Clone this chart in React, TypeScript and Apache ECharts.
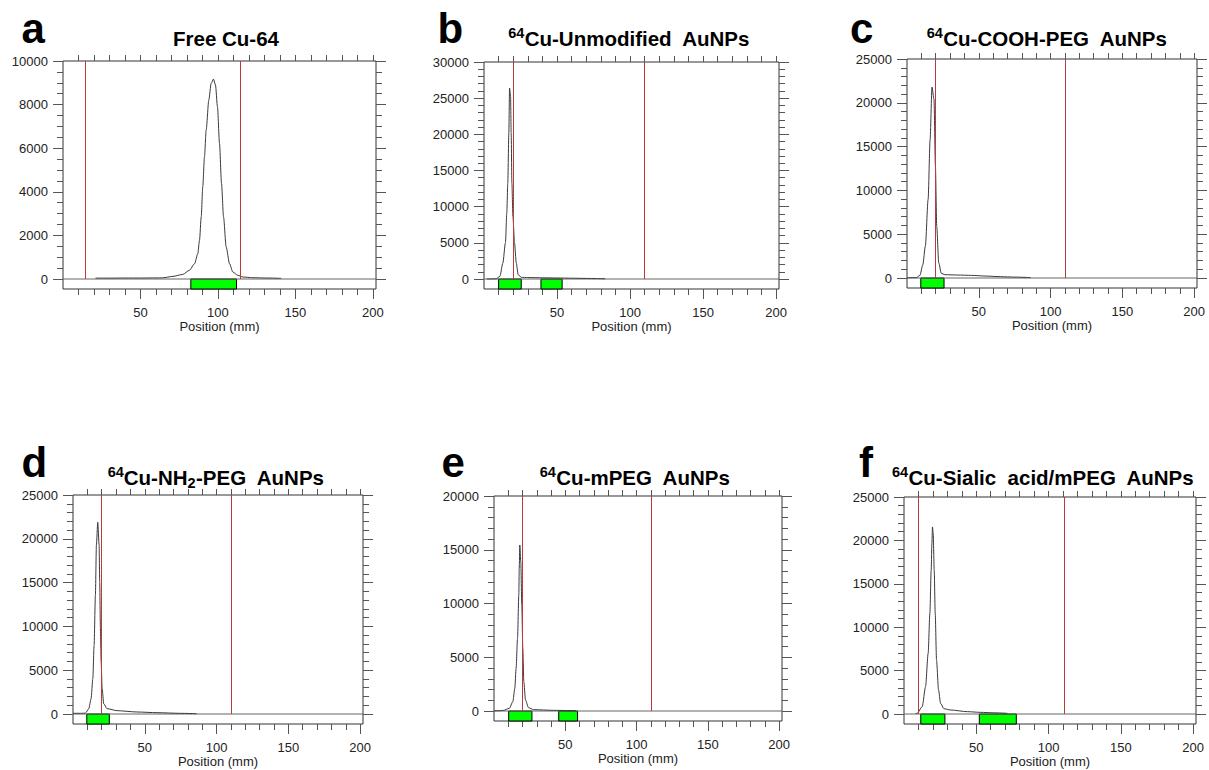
import React, { useEffect, useRef } from 'react';
import * as echarts from 'echarts';

// ---------- data (position in mm, counts) ----------
const traceA: number[][] = [
  [21, 40], [30, 40], [40, 45], [50, 45], [60, 50], [64.4, 55], [70.9, 120], [77.3, 210], [81.6, 400],
  [84.9, 700], [87, 1160], [88.1, 1780], [89.2, 2850], [90.2, 4230], [91.3, 5600], [92.4, 6830],
  [94.1, 8210], [95.6, 8970], [97.1, 9170], [98.4, 8900], [99.7, 7900], [101, 6220], [102.3, 4380],
  [103.6, 2850], [105.3, 1470], [107.5, 700], [109.6, 320], [112.8, 170], [116.1, 90], [122.5, 60],
  [131.1, 46], [140.8, 30],
];
const traceB: number[][] = [
  [2, 0], [8.3, 20], [10.9, 370], [12.9, 2200], [14.7, 5020], [15.6, 9120], [16.3, 13270], [17.0, 20180],
  [17.5, 26400], [18.2, 25250], [18.6, 20180], [19.1, 13270], [19.8, 8660], [20.9, 5020], [22.1, 2210],
  [23.4, 600], [25.5, 230], [30, 200], [40, 170], [50, 140], [60, 110], [70, 80], [77, 60], [83, 30],
];
const traceC: number[][] = [
  [0, 30], [6.5, 40], [9, 300], [11, 1500], [12.8, 3650], [14.7, 8970], [16.1, 15800], [17.4, 21800],
  [18.8, 20400], [19.8, 12800], [20.7, 5900], [22.1, 1750], [23.9, 530], [26.3, 380], [35, 340],
  [45, 300], [55, 220], [65, 150], [75, 100], [86, 50],
];
const traceD: number[][] = [
  [0, 80], [6, 80], [8.7, 100], [11, 610], [12.6, 1750], [13.8, 4040], [14.7, 7850], [15.6, 13560],
  [16.3, 19280], [17.24, 21880], [18.2, 19280], [18.6, 15090], [19.1, 9750], [19.6, 5940], [20.3, 2900],
  [21.4, 1180], [23.7, 610], [30.7, 380], [44.6, 230], [58.5, 150], [74.7, 76], [86, 40],
];
const traceE: number[][] = [
  [0, 20], [4, 30], [6.6, 60], [10.8, 250], [13.2, 870], [14.6, 2110], [15.5, 3970], [16.5, 6760],
  [17.4, 10790], [17.7, 13300], [18.1, 15440], [18.8, 13890], [19.5, 9860], [20.2, 5830], [20.9, 2730],
  [22.1, 1020], [24.2, 310], [27.8, 124], [41.9, 62], [57.3, 31],
];
const traceF: number[][] = [
  [8, 50], [9.1, 77], [12.6, 840], [14.9, 3140], [16.7, 6980], [17.9, 11580], [18.8, 16560], [19.3, 19630],
  [19.7, 21550], [20.2, 20780], [20.9, 16560], [21.6, 11580], [22.5, 6210], [23.9, 2760], [25.3, 1230],
  [27.6, 610], [32.2, 460], [43.8, 270], [53, 190], [62, 140], [71.5, 80],
];

// vertical red lines (mm)
const redA = [14.5, 114.3];
const redB = [20, 110];
const redC = [20, 110.5];
const redD = [20, 110];
const redE = [20, 110];
const redF = [9.6, 110.8];

// green regions (mm)
const greenA = [[82.5, 112]];
const greenB = [[10, 25.5], [39, 53.5]];
const greenC = [[9.6, 25.8]];
const greenD = [[9.6, 25.3]];
const greenE = [[10.3, 26.6], [45.4, 58.6]];
const greenF = [[11.6, 28.3], [52.1, 77.7]];

// y tick labels
const yTicksA = [0, 2000, 4000, 6000, 8000, 10000];
const yTicks30k = [0, 5000, 10000, 15000, 20000, 25000, 30000];
const yTicks25k = [0, 5000, 10000, 15000, 20000, 25000];
const yTicks20k = [0, 5000, 10000, 15000, 20000];

// x tick labels
const xTickLabels = [50, 100, 150, 200];
const xMinorTicks = [10, 20, 30, 40, 50, 60, 70, 80, 90, 100, 110, 120, 130, 140, 150, 160, 170, 180, 190, 200];

const letters = ['a', 'b', 'c', 'd', 'e', 'f'];
const titles = [
  '{m|Free Cu-64}',
  '{sup|64}{m|Cu-Unmodified  AuNPs}',
  '{sup|64}{m|Cu-COOH-PEG  AuNPs}',
  '{sup|64}{m|Cu-NH}{sub|2}{m|-PEG  AuNPs}',
  '{sup|64}{m|Cu-mPEG  AuNPs}',
  '{sup|64}{m|Cu-Sialic  acid/mPEG  AuNPs}',
];
const traces = [traceA, traceB, traceC, traceD, traceE, traceF];
const reds = [redA, redB, redC, redD, redE, redF];
const greens = [greenA, greenB, greenC, greenD, greenE, greenF];
const yTicks = [yTicksA, yTicks30k, yTicks25k, yTicks25k, yTicks20k, yTicks25k];
const yMinorSteps = [500, 1000, 1000, 1000, 1000, 1000];

// ---------- layout ----------
const layout = [
  { left: 63, top: 61, width: 313, height: 228, tx: 226, ty: 38.8, lx: 21.6, ly: 28.7 },
  { left: 484, top: 62, width: 295, height: 227, tx: 629, ty: 38.8, lx: 437.5, ly: 28.7 },
  { left: 907, top: 59, width: 290, height: 229, tx: 1047, ty: 38.8, lx: 850, ly: 28.7 },
  { left: 73, top: 495, width: 290, height: 229, tx: 216, ty: 477, lx: 21.6, ly: 462 },
  { left: 494, top: 496, width: 288, height: 225, tx: 635, ty: 477, lx: 441.6, ly: 462 },
  { left: 904, top: 497, width: 292, height: 227, tx: 1043, ty: 477, lx: 859, ly: 462 },
];

const FONT = '"Liberation Sans", Arial, Helvetica, sans-serif';
const TICK = '#555';
const RED = '#b83c3c';
const X_MAX = 202;

function buildOption() {
  const grid: any[] = [];
  const xAxis: any[] = [];
  const yAxis: any[] = [];
  const series: any[] = [];
  const graphic: any[] = [];

  traces.forEach((trace, i) => {
    const L = layout[i];
    const ticks = yTicks[i];
    const yMax = ticks[ticks.length - 1];
    const yMin = -yMax * 10 / (L.height - 10);
    const minor: number[] = [];
    for (let v = 0; v <= yMax; v += yMinorSteps[i]) minor.push(v);

    grid.push({
      left: L.left, top: L.top, width: L.width, height: L.height,
      show: true, borderColor: '#333', borderWidth: 1, backgroundColor: '#fff',
    });

    const xBase = {
      gridIndex: i, type: 'value', min: 0, max: X_MAX,
      axisLine: { show: false, onZero: false }, splitLine: { show: false },
    };
    xAxis.push({
      ...xBase, position: 'bottom',
      axisTick: { show: true, length: 10, customValues: xTickLabels, lineStyle: { color: TICK } },
      axisLabel: {
        show: true, customValues: xTickLabels, margin: 17, fontSize: 13, color: '#222', fontFamily: FONT,
        formatter: (v: number) => String(v),
      },
      name: 'Position (mm)', nameLocation: 'middle', nameGap: 29,
      nameTextStyle: { fontSize: 13, color: '#222', fontFamily: FONT },
    });
    xAxis.push({
      ...xBase, position: 'bottom',
      axisTick: { show: true, length: 6, customValues: xMinorTicks, lineStyle: { color: TICK } },
      axisLabel: { show: false },
    });
    xAxis.push({
      ...xBase, position: 'top',
      axisTick: { show: true, length: 6, customValues: xMinorTicks, lineStyle: { color: TICK } },
      axisLabel: { show: false },
    });

    const yBase = {
      gridIndex: i, type: 'value', min: yMin, max: yMax,
      axisLine: { show: false, onZero: false }, splitLine: { show: false },
    };
    yAxis.push({
      ...yBase, position: 'left',
      axisTick: { show: true, length: 10, customValues: ticks, lineStyle: { color: TICK } },
      axisLabel: {
        show: true, customValues: ticks, margin: 15, fontSize: 13, color: '#222', fontFamily: FONT,
        formatter: (v: number) => String(v),
      },
    });
    yAxis.push({
      ...yBase, position: 'left',
      axisTick: { show: true, length: 6, customValues: minor, lineStyle: { color: TICK } },
      axisLabel: { show: false },
    });
    yAxis.push({
      ...yBase, position: 'right',
      axisTick: { show: true, length: 10, customValues: ticks, lineStyle: { color: TICK } },
      axisLabel: { show: false },
    });
    yAxis.push({
      ...yBase, position: 'right',
      axisTick: { show: true, length: 6, customValues: minor, lineStyle: { color: TICK } },
      axisLabel: { show: false },
    });

    // zero baseline across the plot
    series.push({
      type: 'line',
      xAxisIndex: i * 3,
      yAxisIndex: i * 4,
      data: [[0, 0], [X_MAX, 0]],
      symbol: 'none',
      showSymbol: false,
      lineStyle: { color: '#666', width: 1 },
      silent: true,
      z: 2,
    });

    series.push({
      type: 'line',
      xAxisIndex: i * 3,
      yAxisIndex: i * 4,
      data: trace,
      symbol: 'none',
      showSymbol: false,
      smooth: 0.25,
      smoothMonotone: 'x',
      color: '#3a3a3a',
      lineStyle: { color: '#3a3a3a', width: 1 },
      z: 3,
      markLine: {
        silent: true,
        symbol: ['none', 'none'],
        label: { show: false },
        animation: false,
        lineStyle: { color: RED, width: 1, type: 'solid' },
        emphasis: { disabled: true },
        data: reds[i].map((x) => [
          { coord: [x, 0], lineStyle: { color: RED, width: 1, type: 'solid' } },
          { coord: [x, yMax], lineStyle: { color: RED, width: 1, type: 'solid' } },
        ]),
      },
      markArea: {
        silent: true,
        animation: false,
        itemStyle: { color: '#00ff00', borderColor: '#000', borderWidth: 1 },
        data: greens[i].map(([a, b]) => [{ coord: [a, 0] }, { coord: [b, yMin] }]),
      },
    });

    graphic.push({
      type: 'text', x: L.lx, y: L.ly,
      style: {
        text: letters[i], fontSize: 42, fontWeight: 'bold', fontFamily: FONT, fill: '#000',
        align: 'left', verticalAlign: 'middle', textAlign: 'left', textVerticalAlign: 'middle',
      },
    });
    graphic.push({
      type: 'text', x: L.tx, y: L.ty,
      style: {
        text: titles[i],
        fill: '#000',
        align: 'center', verticalAlign: 'middle', textAlign: 'center', textVerticalAlign: 'middle',
        rich: {
          m: { fontSize: 20.5, fontWeight: 'bold', fontFamily: FONT, lineHeight: 26, fill: '#000', color: '#000' },
          sup: { fontSize: 14.5, fontWeight: 'bold', fontFamily: FONT, lineHeight: 14, verticalAlign: 'top', fill: '#000', color: '#000' },
          sub: { fontSize: 14.5, fontWeight: 'bold', fontFamily: FONT, lineHeight: 14, verticalAlign: 'bottom', fill: '#000', color: '#000' },
        },
      },
    });
  });

  return {
    animation: false,
    backgroundColor: '#fff',
    grid,
    xAxis,
    yAxis,
    series,
    graphic,
  };
}

export default function App() {
  const ref = useRef<HTMLDivElement>(null);
  useEffect(() => {
    if (!ref.current) return;
    const chart = echarts.init(ref.current, null, { renderer: 'svg' });
    chart.setOption(buildOption() as any);
    return () => chart.dispose();
  }, []);
  return (
    <div
      ref={ref}
      style={{ position: 'absolute', left: 0, top: 0, width: 1209, height: 770, background: '#fff' }}
    />
  );
}
